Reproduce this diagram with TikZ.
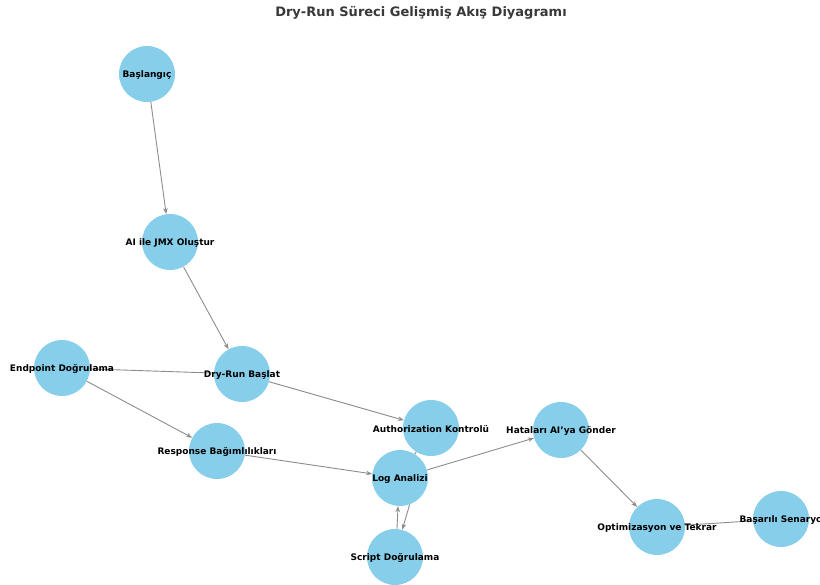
\documentclass[tikz,border=0pt]{standalone}
\usepackage{fontspec}
\setmainfont{DejaVu Sans}
\usetikzlibrary{arrows.meta}
\definecolor{nodeblue}{HTML}{87CEEB}
\definecolor{edgegray}{HTML}{8C8C8C}
\begin{document}
\begin{tikzpicture}[x=1pt,y=-1pt,
  vertex/.style={circle,fill=nodeblue,draw=none,minimum size=56pt,inner sep=0pt},
  lbl/.style={font=\bfseries\fontsize{9}{10}\selectfont,text=black,inner sep=0pt,yshift=-1pt},
  edge/.style={draw=edgegray,line width=0.9pt},
  arr/.style={edge,-{Stealth[length=6pt,width=4.5pt]}},
  heading/.style={font=\bfseries\fontsize{13}{15}\selectfont,text=black!78}]
\useasboundingbox (0,0) rectangle (820,585);
\clip (0,0) rectangle (820,585);

\node[heading] (title) at (421,13) {Dry-Run Süreci Gelişmiş Akış Diyagramı};

% circles
\node[vertex] (start) at (147,74) {};
\node[vertex] (jmx)   at (170,242) {};
\node[vertex] (dry)   at (242,374) {};
\node[vertex] (endp)  at (62,368) {};
\node[vertex] (resp)  at (217,451) {};
\node[vertex] (auth)  at (431,428) {};
\node[vertex] (log)   at (400,478) {};
\node[vertex] (scr)   at (395,557) {};
\node[vertex] (err)   at (561,430) {};
\node[vertex] (opt)   at (657,527) {};
\node[vertex] (ok)    at (781,519) {};

% connectors
\draw[arr] (start) -- (jmx);
\draw[arr] (jmx) -- (dry);
\draw[arr] (dry) -- (auth);
\draw[edge] (dry) -- (endp);
\draw[arr] (endp) -- (resp);
\draw[arr] (resp) -- (log);
\draw[edge] (auth) -- (log);
\draw[arr] (log) -- (err);
\draw[arr] (log.290) -- (scr.75);
\draw[arr] (scr.86) -- (log.266);
\draw[arr] (err) -- (opt);
\draw[edge] (opt) -- (ok);

% labels
\node[lbl] (tstart) at (start) {Başlangıç};
\node[lbl] (tjmx)   at (jmx)   {AI ile JMX Oluştur};
\node[lbl] (tdry)   at (dry)   {Dry-Run Başlat};
\node[lbl] (tendp)  at (endp)  {Endpoint Doğrulama};
\node[lbl] (tresp)  at (resp)  {Response Bağımlılıkları};
\node[lbl] (tauth)  at (auth)  {Authorization Kontrolü};
\node[lbl] (tlog)   at (log)   {Log Analizi};
\node[lbl] (tscr)   at (scr)   {Script Doğrulama};
\node[lbl] (terr)   at (err)   {Hataları AI'ya Gönder};
\node[lbl] (topt)   at (opt)   {Optimizasyon ve Tekrar};
\node[lbl] (tok)    at (ok)    {Başarılı Senaryo};
\end{tikzpicture}
\end{document}
